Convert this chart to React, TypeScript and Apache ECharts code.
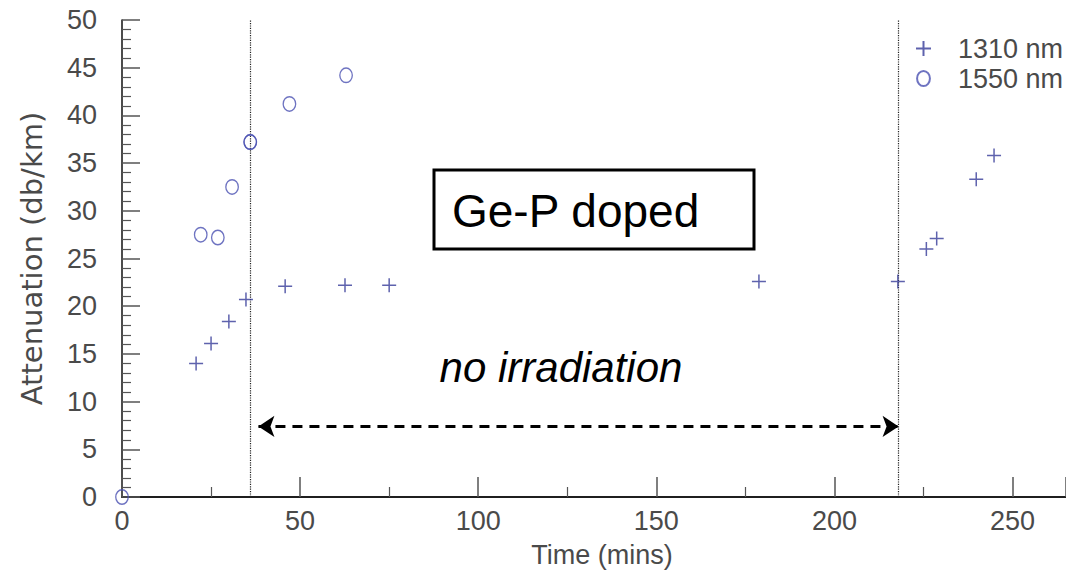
import React, { useEffect, useRef } from "react";
import * as echarts from "echarts";

// ---- data ----
const time1310 = [20.8, 25.0, 30.0, 34.8, 45.8, 62.6, 75.0, 178.8, 217.8, 225.8, 228.7, 239.8, 244.8];
const att1310 = [14.0, 16.1, 18.4, 20.7, 22.1, 22.2, 22.2, 22.6, 22.6, 26.0, 27.1, 33.3, 35.8];
const time1550 = [0, 22.1, 26.9, 30.9, 36.0, 36.0, 47.0, 62.9];
const att1550 = [0, 27.5, 27.2, 32.5, 37.2, 37.2, 41.2, 44.2];

const seriesNames = ["1310 nm", "1550 nm"];
const irradiationOff = [36, 218]; // vertical dotted lines (mins)
const arrowSpan = [38.3, 218];
const arrowLevel = 7.4;
const boxLabel = "Ge-P doped";
const arrowLabel = "no irradiation";
const xName = "Time (mins)";
const yName = "Attenuation (db/km)";

const FONT = "'Liberation Sans', Arial, sans-serif";
const AXIS_TXT = "#4a4a4a";

export default function App() {
  const ref = useRef<HTMLDivElement>(null);
  useEffect(() => {
    if (!ref.current) return;
    const chart = echarts.init(ref.current, null, { renderer: "svg" });
    const crossPath = "path://M0,7L14,7M7,0L7,14";
    const ellipsePath = "path://M6,0A6,7,0,1,1,6,14A6,7,0,1,1,6,0Z";
    const c1310 = "#363b98";
    const c1550 = "#4a50b2";
    chart.setOption({
      animation: false,
      backgroundColor: "#fff",
      grid: { left: 122, right: 0, top: 20, height: 477, containLabel: false, outerBoundsMode: "none" },
      legend: {
        orient: "vertical",
        left: 915,
        top: 35,
        padding: 0,
        itemWidth: 15,
        itemHeight: 15,
        itemGap: 3,
        data: seriesNames,
        textStyle: { fontSize: 27, color: AXIS_TXT, fontFamily: FONT, padding: [0, 0, 0, 22] },
      },
      xAxis: [
        {
          type: "value",
          min: 0,
          max: 265,
          interval: 50,
          name: xName,
          nameLocation: "middle",
          nameGap: 44,
          nameTextStyle: { fontSize: 27, color: AXIS_TXT, fontFamily: FONT, padding: [0, 0, 0, 16] },
          axisLine: { show: true, onZero: false, lineStyle: { color: "#111", width: 1.5 } },
          axisTick: { show: true, inside: true, length: 20, lineStyle: { color: "#555", width: 1.5 } },
          minorTick: { show: true, splitNumber: 2, length: 10, lineStyle: { color: "#555", width: 1.2 } },
          axisLabel: { fontSize: 27, color: AXIS_TXT, fontFamily: FONT, margin: 10, showMaxLabel: false },
          splitLine: { show: false },
        },
        {
          type: "value",
          position: "top",
          min: 0,
          max: 265,
          axisLine: { show: true, lineStyle: { color: "#111", width: 1.5 } },
          axisTick: { show: false },
          axisLabel: { show: false },
          splitLine: { show: false },
        },
      ],
      yAxis: {
        type: "value",
        min: 0,
        max: 50,
        interval: 5,
        name: yName,
        nameLocation: "middle",
        nameRotate: 90,
        nameGap: 76,
        nameTextStyle: { fontSize: 29, color: AXIS_TXT, fontFamily: "'DejaVu Sans', sans-serif" },
        axisLine: { show: true, onZero: false, lineStyle: { color: "#111", width: 1.5 } },
        axisTick: { show: true, inside: true, length: 18, lineStyle: { color: "#555", width: 1.5 } },
        minorTick: { show: true, splitNumber: 5, length: 9, lineStyle: { color: "#555", width: 1.2 } },
        axisLabel: { fontSize: 27, color: AXIS_TXT, fontFamily: FONT, margin: 25 },
        splitLine: { show: false },
      },
      series: [
        {
          name: seriesNames[0],
          type: "scatter",
          symbol: crossPath,
          symbolSize: 14,
          itemStyle: { color: "rgba(0,0,0,0)", borderColor: c1310, borderWidth: 1.5 },
          data: time1310.map((t, i) => [t, att1310[i]]),
          z: 5,
          markLine: {
            silent: true,
            symbol: ["none", "none"],
            label: { show: false },
            lineStyle: { type: "dotted", color: "#222", width: 1.2 },
            data: irradiationOff.map((v) => ({ xAxis: v })),
          },
        },
        {
          name: seriesNames[1],
          type: "scatter",
          symbol: ellipsePath,
          symbolSize: [12.5, 14.5],
          itemStyle: { color: "rgba(0,0,0,0)", borderColor: c1550, borderWidth: 1.4 },
          data: time1550.map((t, i) => [t, att1550[i]]),
          z: 5,
          markLine: {
            silent: true,
            symbol: ["arrow", "arrow"],
            symbolSize: [16, 16],
            label: { show: false },
            lineStyle: { type: [10, 7], color: "#000", width: 3 },
            data: [[{ coord: [arrowSpan[0], arrowLevel] }, { coord: [arrowSpan[1], arrowLevel] }]],
          },
        },
      ],
      graphic: [
        {
          type: "rect",
          z: 50,
          shape: { x: 434, y: 170, width: 320, height: 79 },
          style: { fill: "#fff", stroke: "#000", lineWidth: 3 },
        },
        {
          type: "text",
          z: 51,
          x: 452,
          y: 211,
          style: {
            text: boxLabel,
            font: `46px ${FONT}`,
            fill: "#000",
            textAlign: "left",
            textVerticalAlign: "middle",
          },
        },
        {
          type: "text",
          z: 51,
          x: 561,
          y: 367,
          style: {
            text: arrowLabel,
            font: `italic 42px ${FONT}`,
            fill: "#000",
            textAlign: "center",
            textVerticalAlign: "middle",
          },
        },
      ],
    });
    return () => chart.dispose();
  }, []);
  return (
    <div
      ref={ref}
      style={{ position: "absolute", left: 0, top: 0, width: 1066, height: 578 }}
    />
  );
}
